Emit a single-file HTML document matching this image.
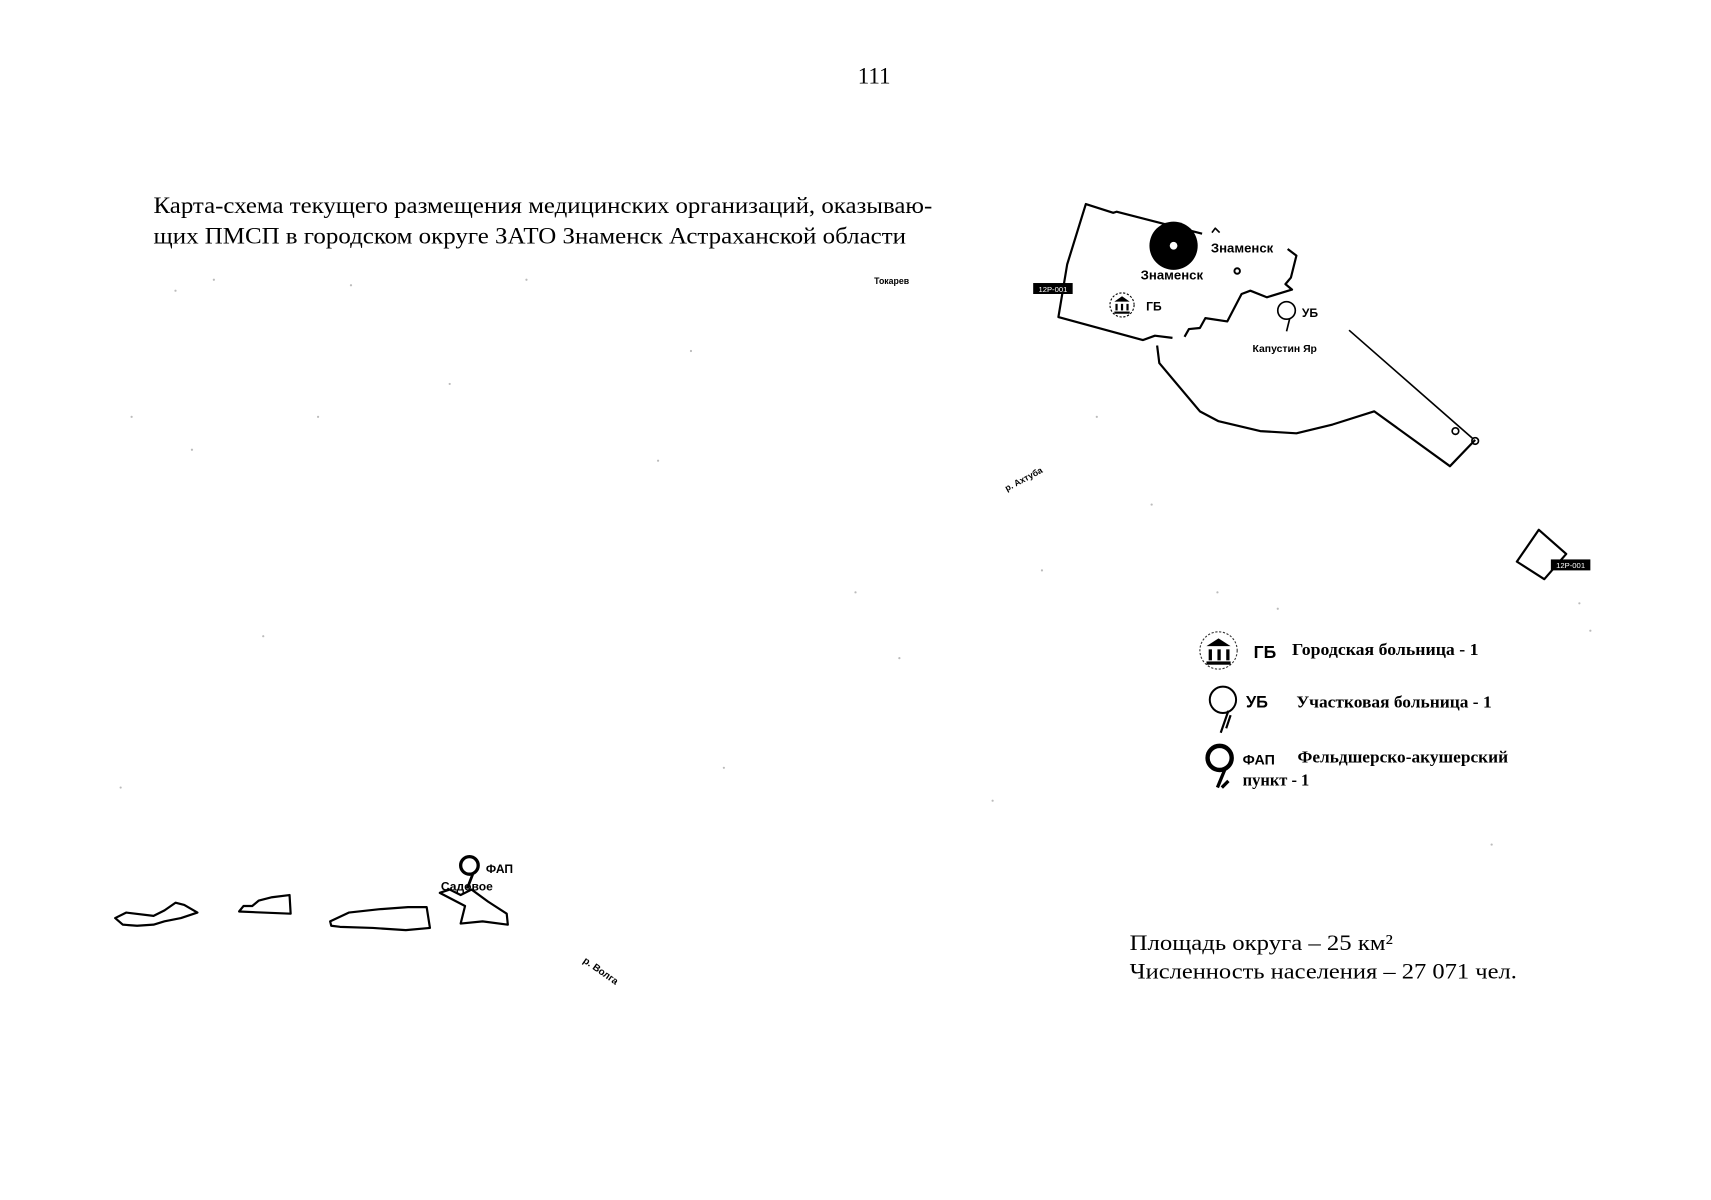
<!DOCTYPE html>
<html><head><meta charset="utf-8"><style>
html,body{margin:0;padding:0;background:#fff;}
svg{display:block}
.s{font-family:"Liberation Serif","DejaVu Serif",serif;fill:#000}
.a{font-family:"Liberation Sans","DejaVu Sans",sans-serif;fill:#000;font-weight:bold}
</style></head><body>
<svg width="1711" height="1200" viewBox="0 0 1560 1094" xmlns="http://www.w3.org/2000/svg">
<rect width="1560" height="1094" fill="#fff"/>
<text class="s" x="797" y="76" font-size="21" text-anchor="middle">111</text>
<text class="s" x="140" y="194" font-size="21" textLength="710" lengthAdjust="spacingAndGlyphs">Карта-схема текущего размещения медицинских организаций, оказываю-</text>
<text class="s" x="140" y="222" font-size="21" textLength="686" lengthAdjust="spacingAndGlyphs">щих ПМСП в городском округе ЗАТО Знаменск Астраханской области</text>
<text class="a" x="797" y="259" font-size="8">Токарев</text>

<g fill="#bbb">
<circle cx="160" cy="265" r="1"/><circle cx="195" cy="255" r="1"/><circle cx="320" cy="260" r="1"/><circle cx="480" cy="255" r="1"/>
<circle cx="410" cy="350" r="1"/><circle cx="290" cy="380" r="1"/><circle cx="120" cy="380" r="1"/><circle cx="175" cy="410" r="1"/>
<circle cx="600" cy="420" r="1"/><circle cx="780" cy="540" r="1"/><circle cx="820" cy="600" r="1"/><circle cx="240" cy="580" r="1"/>
<circle cx="110" cy="718" r="1"/><circle cx="660" cy="700" r="1"/><circle cx="905" cy="730" r="1"/><circle cx="1110" cy="540" r="1"/>
<circle cx="1165" cy="555" r="1"/><circle cx="1440" cy="550" r="1"/><circle cx="1450" cy="575" r="1"/><circle cx="1360" cy="770" r="1"/>
<circle cx="1000" cy="380" r="1"/><circle cx="1050" cy="460" r="1"/><circle cx="950" cy="520" r="1"/><circle cx="630" cy="320" r="1"/>
</g>

<g fill="none" stroke="#000" stroke-width="2" stroke-linejoin="round">
<polyline points="1096,213 1018,193 1015,194 990,186 973,241 965,289 1042,310 1053,306 1069,308"/>
<polyline points="1080,307 1084,300 1094,299 1099,290 1119,293 1132,268 1140,265 1155,271 1178,264 1172,259 1177,253 1182,233 1174,227"/>
<polyline points="1055,315 1057,331 1094,375 1111,384 1149,393 1182,395 1215,387 1253,375 1322,425 1345,401"/>
<line x1="1230" y1="301" x2="1343" y2="400" stroke-width="1.5"/>
<circle cx="1327" cy="393" r="3" stroke-width="1.5"/>
<circle cx="1345" cy="402" r="3" stroke-width="1.5"/>
<polygon points="1403,483 1428,505 1408,528 1383,512"/>
<circle cx="1128" cy="247" r="2.5" stroke-width="1.8"/>
<polyline points="1105,212 1108,208 1112,212" stroke-width="1.5"/>
</g>
<circle cx="1070" cy="224" r="22" fill="#000"/>
<circle cx="1070" cy="224" r="3.5" fill="#fff"/>
<text class="a" x="1104" y="230" font-size="12">Знаменск</text>
<text class="a" x="1040" y="255" font-size="12">Знаменск</text>
<rect x="942" y="258" width="36" height="10" fill="#000"/>
<text x="960" y="266" font-size="7" fill="#fff" text-anchor="middle" font-family="Liberation Sans,sans-serif">12P-001</text>
<rect x="1414" y="510" width="36" height="10" fill="#000"/>
<text x="1432" y="518" font-size="7" fill="#fff" text-anchor="middle" font-family="Liberation Sans,sans-serif">12P-001</text>

<circle cx="1023" cy="278" r="11" fill="none" stroke="#000" stroke-width="1" stroke-dasharray="2,1.5"/>
<g fill="#000"><polygon points="1016,275 1023,270 1030,275"/><rect x="1017" y="277" width="2" height="6"/><rect x="1022" y="277" width="2" height="6"/><rect x="1027" y="277" width="2" height="6"/><rect x="1016" y="284" width="14" height="2"/></g>
<text class="a" x="1045" y="283" font-size="11">ГБ</text>
<circle cx="1173" cy="283" r="8" fill="none" stroke="#000" stroke-width="1.5"/>
<line x1="1176" y1="290" x2="1173" y2="302" stroke="#000" stroke-width="1.5"/>
<text class="a" x="1187" y="289" font-size="11">УБ</text>
<text class="a" x="1142" y="321" font-size="9.5">Капустин Яр</text>
<text class="a" font-size="8" transform="translate(918,448) rotate(-28)">р. Ахтуба</text>

<circle cx="1111" cy="593" r="17" fill="none" stroke="#333" stroke-width="1" stroke-dasharray="2,1.5"/>
<g fill="#000"><polygon points="1100,589 1111,582 1122,589"/><rect x="1102" y="592" width="3" height="10"/><rect x="1110" y="592" width="3" height="10"/><rect x="1118" y="592" width="3" height="10"/><rect x="1100" y="603" width="22" height="3"/></g>
<text class="a" x="1143" y="600" font-size="16" font-weight="normal">ГБ</text>
<text class="s" x="1178" y="597" font-size="15" font-weight="bold" textLength="170" lengthAdjust="spacingAndGlyphs">Городская больница - 1</text>
<circle cx="1115" cy="638" r="12" fill="none" stroke="#000" stroke-width="1.8"/>
<path d="M1120 648 L1113 668 M1122 652 L1118 664" stroke="#000" stroke-width="2"/>
<text class="a" x="1136" y="645" font-size="15">УБ</text>
<text class="s" x="1182" y="645" font-size="15" font-weight="bold" textLength="178" lengthAdjust="spacingAndGlyphs">Участковая больница - 1</text>
<circle cx="1112" cy="691" r="11" fill="none" stroke="#000" stroke-width="4"/>
<path d="M1117 701 L1110 718 M1120 712 L1114 718" stroke="#000" stroke-width="3"/>
<text class="a" x="1133" y="697" font-size="13" font-weight="normal">ФАП</text>
<text class="s" x="1183" y="695" font-size="15" font-weight="bold" textLength="192" lengthAdjust="spacingAndGlyphs">Фельдшерско-акушерский</text>
<text class="s" x="1133" y="716" font-size="15" font-weight="bold">пункт - 1</text>

<text class="s" x="1030" y="866" font-size="20" textLength="240" lengthAdjust="spacingAndGlyphs">Площадь округа – 25 км²</text>
<text class="s" x="1030" y="892" font-size="20" textLength="353" lengthAdjust="spacingAndGlyphs">Численность населения – 27 071 чел.</text>

<g fill="none" stroke="#000" stroke-width="2" stroke-linejoin="round">
<path d="M105 837 L115 832 L140 835 L150 830 L160 823 L168 825 L180 832 L165 837 L150 840 L140 843 L125 844 L112 843 Z"/>
<path d="M218 831 L222 826 L230 826 L236 821 L248 818 L264 816 L265 833 L240 832 Z"/>
<path d="M301 840 L318 832 L345 829 L372 827 L389 827 L392 846 L370 848 L340 846 L310 845 L302 844 Z"/>
<path d="M401 814 L410 811 L420 816 L430 811 L445 822 L462 833 L463 843 L440 840 L420 842 L424 826 Z"/>
</g>
<circle cx="428" cy="789" r="8" fill="none" stroke="#000" stroke-width="3"/>
<path d="M431 797 L426 810" stroke="#000" stroke-width="2.5"/>
<text class="a" x="443" y="796" font-size="11" font-weight="normal">ФАП</text>
<text class="a" x="402" y="812" font-size="11" font-weight="normal">Садовое</text>
<text class="a" font-size="9" transform="translate(531,877) rotate(35)">р. Волга</text>
</svg>
</body></html>
